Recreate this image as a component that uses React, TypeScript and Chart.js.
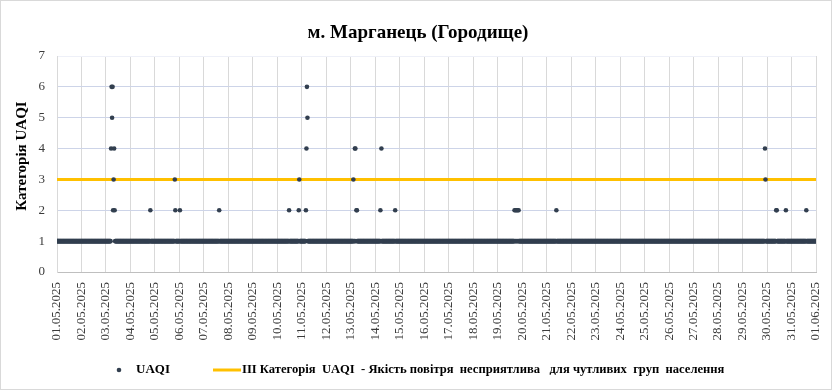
import { useEffect, useRef } from "react";
import { Chart, registerables } from "chart.js";

Chart.register(...registerables);

const chartTitle = "м. Марганець (Городище)";
const yAxisTitle = "Категорія UAQI";
const seriesName = "UAQI";
const thresholdName =
  "ІІІ Категорія  UAQI  - Якість повітря  несприятлива   для чутливих  груп  населення";

const dateLabels = [
  "01.05.2025", "02.05.2025", "03.05.2025", "04.05.2025", "05.05.2025",
  "06.05.2025", "07.05.2025", "08.05.2025", "09.05.2025", "10.05.2025",
  "11.05.2025", "12.05.2025", "13.05.2025", "14.05.2025", "15.05.2025",
  "16.05.2025", "17.05.2025", "18.05.2025", "19.05.2025", "20.05.2025",
  "21.05.2025", "22.05.2025", "23.05.2025", "24.05.2025", "25.05.2025",
  "26.05.2025", "27.05.2025", "28.05.2025", "29.05.2025", "30.05.2025",
  "31.05.2025", "01.06.2025",
];

// Half-hourly UAQI category, one string per day (48 readings), last entry = 01.06 00:00
const halfHourlyUaqi = [
  "111111111111111111111111111111111111111111111111", // 01.05
  "111111111111111111111111111111111111111111111111", // 02.05
  "111111111146562342111111111111111111111111111111", // 03.05
  "111111111111111111111111111111111111111211111111", // 04.05
  "111111111111111111111111111111111111111321111111", // 05.05
  "121111111111111111111111111111111111111111111111", // 06.05
  "111111111111111111111111111111211111111111111111", // 07.05
  "111111111111111111111111111111111111111111111111", // 08.05
  "111111111111111111111111111111111111111111111111", // 09.05
  "111111111111111111111112111111111111111111231111", // 10.05
  "111111112465111111111111111111111111111111111111", // 11.05
  "111111111111111111111111111111111111111111111111", // 12.05
  "111113114412211111111111111111111111111111111111", // 13.05
  "111111111121411111111111111111111111111211111111", // 14.05
  "111111111111111111111111111111111111111111111111", // 15.05
  "111111111111111111111111111111111111111111111111", // 16.05
  "111111111111111111111111111111111111111111111111", // 17.05
  "111111111111111111111111111111111111111111111111", // 18.05
  "111111111111111111111111111111111212121212111111", // 19.05
  "111111111111111111111111111111111111111111111111", // 20.05
  "111111111111111111121111111111111111111111111111", // 21.05
  "111111111111111111111111111111111111111111111111", // 22.05
  "111111111111111111111111111111111111111111111111", // 23.05
  "111111111111111111111111111111111111111111111111", // 24.05
  "111111111111111111111111111111111111111111111111", // 25.05
  "111111111111111111111111111111111111111111111111", // 26.05
  "111111111111111111111111111111111111111111111111", // 27.05
  "111111111111111111111111111111111111111111111111", // 28.05
  "111111111111111111111111111111111111111111114311", // 29.05
  "111111111111111111221111111111111111121111111111", // 30.05
  "111111111111111111111111111112111111111111111111", // 31.05
  "1",                                                // 01.06
];

const thresholdLevel = 3;
const yTicks = [0, 1, 2, 3, 4, 5, 6, 7];

const DOT = "#323f4f";
const GOLD = "#ffc000";
const SERIF = "'Liberation Serif', 'Times New Roman', serif";

export default function App() {
  const ref = useRef<HTMLCanvasElement | null>(null);

  useEffect(() => {
    const canvas = ref.current;
    if (!canvas) return;

    const points = halfHourlyUaqi.flatMap((s, d) =>
      s.split("").map((c, i) => ({ x: d * 24 + i / 2, y: Number(c) }))
    );
    const lastHour = (dateLabels.length - 1) * 24;

    const decor = {
      id: "decor",
      beforeDraw(chart: any) {
        const ctx = chart.ctx;
        ctx.save();
        ctx.fillStyle = "#ffffff";
        ctx.fillRect(0, 0, chart.width, chart.height);
        ctx.strokeStyle = "#d9d9d9";
        ctx.lineWidth = 1;
        ctx.strokeRect(0.5, 0.5, 831, 389);
        ctx.restore();
      },
      afterDraw(chart: any) {
        const ctx = chart.ctx;
        ctx.save();
        // title
        ctx.fillStyle = "#000000";
        ctx.font = `bold 19px ${SERIF}`;
        ctx.textAlign = "center";
        ctx.textBaseline = "alphabetic";
        ctx.fillText(chartTitle, 418, 38);
        // y axis title
        ctx.save();
        ctx.translate(22, 156);
        ctx.rotate(-Math.PI / 2);
        ctx.font = `bold 15px ${SERIF}`;
        ctx.textAlign = "center";
        ctx.textBaseline = "middle";
        ctx.fillText(yAxisTitle, 0, 0);
        ctx.restore();
        // legend
        const ly = 370;
        ctx.textBaseline = "middle";
        ctx.textAlign = "left";
        ctx.fillStyle = DOT;
        ctx.beginPath();
        ctx.arc(119, ly, 2.3, 0, Math.PI * 2);
        ctx.fill();
        ctx.fillStyle = "#000000";
        ctx.font = `bold 13px ${SERIF}`;
        ctx.fillText(seriesName, 136, ly);
        ctx.strokeStyle = GOLD;
        ctx.lineWidth = 3;
        ctx.beginPath();
        ctx.moveTo(213, ly);
        ctx.lineTo(241, ly);
        ctx.stroke();
        ctx.font = `bold 12.6px ${SERIF}`;
        ctx.fillText(thresholdName, 242, ly);
        ctx.restore();
      },
    };

    const chart = new Chart(canvas, {
      type: "scatter",
      data: {
        datasets: [
          {
            type: "scatter",
            label: seriesName,
            data: points,
            pointRadius: 2.3,
            pointHoverRadius: 2.3,
            pointBackgroundColor: DOT,
            pointBorderWidth: 0,
            borderWidth: 0,
            order: 1,
          },
          {
            type: "line",
            label: thresholdName,
            data: [
              { x: 0, y: thresholdLevel },
              { x: lastHour, y: thresholdLevel },
            ],
            borderColor: GOLD,
            borderWidth: 3,
            pointRadius: 0,
            order: 2,
          } as any,
        ],
      },
      options: {
        responsive: false,
        animation: false,
        layout: { padding: { left: 10, right: 17, top: 56, bottom: 0 } },
        plugins: {
          legend: { display: false },
          title: { display: false },
          tooltip: { enabled: false },
        },
        scales: {
          x: {
            type: "linear",
            min: 0,
            max: lastHour,
            afterBuildTicks(scale: any) {
              scale.ticks = dateLabels.map((_, i) => ({ value: i * 24 }));
            },
            afterFit(scale: any) {
              scale.height = 119;
              scale.paddingLeft = 0;
              scale.paddingRight = 0;
            },
            ticks: {
              autoSkip: false,
              minRotation: 90,
              maxRotation: 90,
              padding: 10,
              color: "#3a3a3a",
              font: { family: SERIF, size: 13 },
              callback: (v: any) => dateLabels[Math.round(Number(v) / 24)] ?? "",
            },
            grid: { color: "#d9d9d9", drawTicks: false, lineWidth: 1 },
            border: { color: "#bfbfbf" },
          },
          y: {
            min: 0,
            max: 7,
            afterBuildTicks(scale: any) {
              scale.ticks = yTicks.map((v) => ({ value: v }));
            },
            afterFit(scale: any) {
              scale.width = 47;
              scale.paddingTop = 0;
              scale.paddingBottom = 0;
            },
            ticks: {
              padding: 12,
              color: "#3a3a3a",
              font: { family: SERIF, size: 13 },
            },
            grid: {
              drawTicks: false,
              color: (c: any) => (c.tick && c.tick.value === 7 ? "#eef0f8" : "#cdd4e8"),
            },
            border: { color: "#d9d9d9" },
          },
        },
      },
      plugins: [decor],
    });

    return () => chart.destroy();
  }, []);

  return (
    <div style={{ position: "absolute", left: 0, top: 0, width: 833, height: 391 }}>
      <canvas ref={ref} width={833} height={391} style={{ width: 833, height: 391 }} />
    </div>
  );
}
